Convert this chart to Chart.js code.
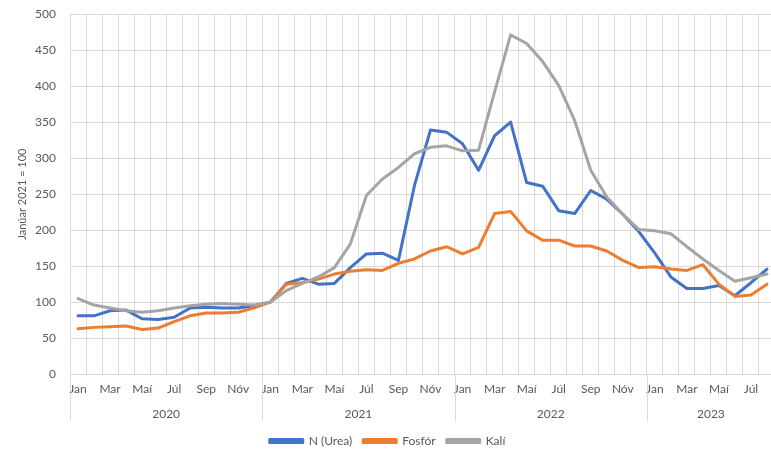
<!DOCTYPE html>
<html><head><meta charset="utf-8">
<script src="https://cdn.jsdelivr.net/npm/chart.js@4/dist/chart.umd.min.js"></script>
<style>html,body{margin:0;padding:0;background:#fff;overflow:hidden}#wrap{width:776px;height:456px;position:relative}</style>
</head><body><div id="wrap"><canvas id="c"></canvas></div>
<script>
const monthNames = ['Jan','Feb','Mar','Apr','Maí','Jún','Júl','Ágú','Sep','Okt','Nóv','Des'];
const yearLabels = ['2020','2021','2022','2023'];
const monthsPerYear = [12,12,12,8];
const seriesNames = ['N (Urea)','Fosfór','Kalí'];
const ureaValues = [
  81, 81, 88, 89, 77, 76, 79, 92, 93, 92, 92, 95,
  100, 126, 133, 125, 126, 148, 167, 168, 158, 262, 339, 336,
  320, 283, 331, 350, 266, 261, 227, 223, 255, 243, 222, 198,
  168, 135, 119, 119, 123, 109, 127, 146
];
const fosforValues = [
  63, 65, 66, 67, 62, 64, 73, 81, 85, 85, 86, 92,
  100, 125, 127, 132, 139, 143, 145, 144, 154, 160, 171, 177,
  167, 176, 223, 226, 199, 186, 186, 178, 178, 171, 158, 148,
  149, 146, 144, 152, 125, 108, 110, 125
];
const kaliValues = [
  105, 96, 92, 88, 86, 88, 92, 95, 97, 98, 97, 96,
  100, 116, 126, 135, 148, 181, 248, 271, 287, 306, 315, 317,
  310, 311, 392, 471, 459, 434, 401, 352, 283, 246, 222, 201,
  199, 195, 177, 160, 144, 129, 134, 139
];
const seriesColors = ['#4472C4','#ED7D31','#A5A5A5'];
const yMin = 0, yMax = 500, yStep = 50;
const yTitle = 'Janúar 2021 = 100';

// categories built from month names and years
const categories = [];
const yearCenters = [];
const yearBounds = [];
let start = 0;
monthsPerYear.forEach((n, yi) => {
  for (let m = 0; m < n; m++) categories.push(monthNames[m]);
  yearBounds.push(start - 0.5);
  yearCenters.push(start + n / 2 - 0.5);
  start += n;
});
yearBounds.push(start - 0.5);

const GRID = '#d9d9d9';
const TXT = '#595959';
Chart.defaults.font.family = 'Lato, "Open Sans", sans-serif';
Chart.defaults.color = TXT;

const yearSeparators = {
  id: 'yearSeparators',
  afterDraw(chart) {
    const x2 = chart.scales.x2, ctx = chart.ctx;
    ctx.save();
    ctx.strokeStyle = GRID; ctx.lineWidth = 1;
    yearBounds.forEach(b => {
      const px = Math.round(x2.getPixelForValue(b)) + 0.5;
      ctx.beginPath();
      ctx.moveTo(px, chart.chartArea.bottom);
      ctx.lineTo(px, x2.bottom - 3);
      ctx.stroke();
    });
    ctx.restore();
  }
};

const mk = (i, data) => ({
  label: seriesNames[i], data,
  borderColor: seriesColors[i], backgroundColor: seriesColors[i],
  borderWidth: 3, pointRadius: 0, pointHoverRadius: 0, tension: 0,
  borderJoinStyle: 'round', borderCapStyle: 'round', fill: false,
  order: 3 - i
});

new Chart(document.getElementById('c'), {
  type: 'line',
  data: { labels: categories, datasets: [mk(0, ureaValues), mk(1, fosforValues), mk(2, kaliValues)] },
  options: {
    responsive: true, maintainAspectRatio: false, animation: false,
    layout: { padding: { top: 14, right: 1, left: 0, bottom: -1 } },
    plugins: {
      legend: {
        position: 'bottom',
        labels: {
          boxWidth: 33, boxHeight: 3, padding: 11, color: TXT,
          font: { size: 12 },
          sort: (a, b) => a.datasetIndex - b.datasetIndex
        }
      },
      tooltip: { enabled: false }
    },
    scales: {
      x: {
        type: 'category', offset: true,
        grid: { color: GRID, offset: true, drawTicks: false },
        border: { color: GRID },
        ticks: {
          autoSkip: false, maxRotation: 0, padding: 8, color: TXT, font: { size: 12 },
          callback: function (v, i) { return i % 2 === 0 ? this.getLabelForValue(v) : ''; }
        }
      },
      x2: {
        type: 'linear', position: 'bottom', min: -0.5, max: start - 0.5,
        grid: { display: false, drawTicks: false }, border: { display: false },
        afterBuildTicks: (s) => { s.ticks = yearCenters.map(v => ({ value: v })); },
        ticks: {
          autoSkip: false, maxRotation: 0, padding: 2.5, color: TXT, font: { size: 12 },
          callback: (v) => { const k = yearCenters.indexOf(v); return k >= 0 ? yearLabels[k] : ''; }
        }
      },
      y: {
        min: yMin, max: yMax,
        afterFit: (s) => { s.width = 70; s.paddingTop = 0; s.paddingBottom = 0; },
        grid: { color: GRID, drawTicks: false }, border: { display: false },
        ticks: { stepSize: yStep, padding: 14, color: TXT, font: { size: 12 } },
        title: { display: true, text: yTitle, color: TXT, font: { size: 11 }, padding: { top: 16, bottom: 0 } }
      }
    }
  },
  plugins: [yearSeparators]
});
</script></body></html>
